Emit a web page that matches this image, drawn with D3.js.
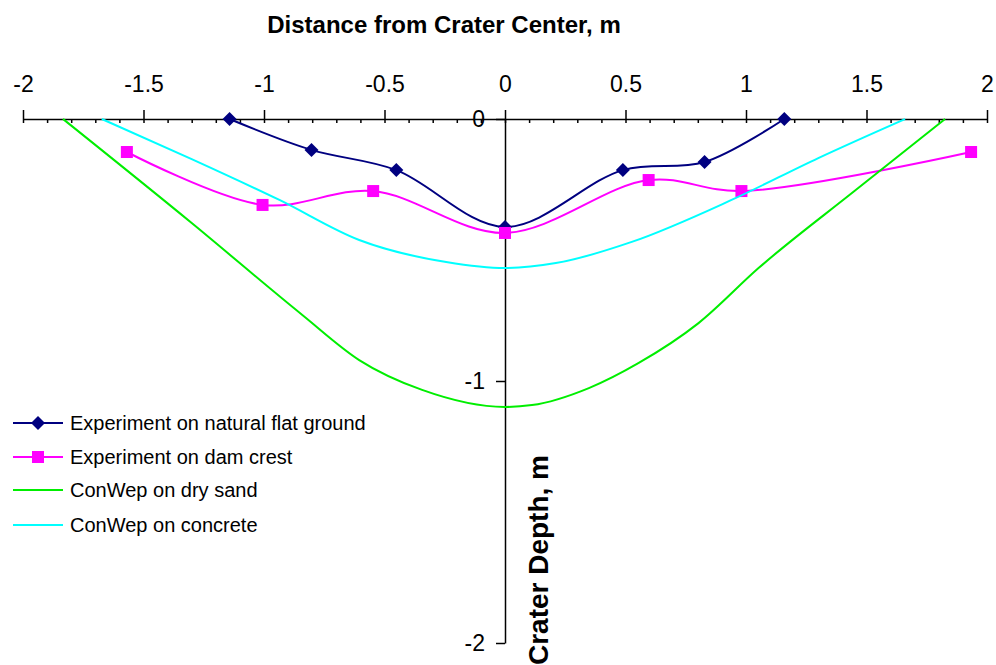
<!DOCTYPE html>
<html>
<head>
<meta charset="utf-8">
<script src="https://cdn.jsdelivr.net/npm/d3@7"></script>
<style>
  body { margin: 0; background: #fff; }
  text { font-family: "Liberation Sans", Arial, sans-serif; fill: #000; }
</style>
</head>
<body>
<div id="chart"></div>
<script>
// data (distance in m, depth in m)
var flatX = [-1.143, -0.803, -0.451, 0, 0.489, 0.828, 1.159];
var flatY = [0, -0.118, -0.195, -0.412, -0.195, -0.164, 0];

var damX = [-1.569, -1.006, -0.547, 0, 0.596, 0.981, 1.934];
var damY = [-0.126, -0.328, -0.275, -0.435, -0.233, -0.275, -0.126];

var sandX = [-1.834, -1.3, -0.841, -0.605, -0.344, 0, 0.112, 0.348, 0.555, 0.803, 1.052, 1.45, 1.826];
var sandY = [0, -0.397, -0.748, -0.920, -1.034, -1.099, -1.092, -1.027, -0.931, -0.779, -0.569, -0.275, 0];

var concX = [-1.673, -1.3, -0.936, -0.605, -0.244, 0, 0.211, 0.526, 0.940, 1.3, 1.660];
var concY = [0, -0.153, -0.309, -0.462, -0.546, -0.569, -0.550, -0.469, -0.309, -0.149, 0];

var xTicks = [-2, -1.5, -1, -0.5, 0, 0.5, 1, 1.5, 2];
var yTicks = [0, -1, -2];
var seriesNames = ["Experiment on natural flat ground", "Experiment on dam crest",
                   "ConWep on dry sand", "ConWep on concrete"];

var W = 996, H = 665;

var svg = d3.select("#chart").append("svg")
    .attr("width", W)
    .attr("height", H);

var x = d3.scaleLinear().domain([-2, 2]).range([23, 987]);
var y = d3.scaleLinear().domain([-2, 0]).range([643, 119]);

// title
svg.append("text")
    .attr("x", 444)
    .attr("y", 33)
    .attr("text-anchor", "middle")
    .style("font-size", "24px")
    .style("font-weight", "bold")
    .text("Distance from Crater Center, m");

// x axis on top (at depth 0)
var minor = d3.range(-20, 21).map(function(d) { return d / 10; });
svg.append("g")
    .attr("transform", "translate(0," + y(0) + ")")
    .call(d3.axisBottom(x).tickValues(minor).tickSize(4).tickSizeOuter(0).tickFormat(""))
    .call(function(g) { g.select(".domain").remove(); })
    .selectAll("line").attr("stroke", "#000").attr("stroke-width", 1.5);

var xAxis = svg.append("g")
    .attr("transform", "translate(0," + y(0) + ")")
    .call(d3.axisTop(x).tickValues(xTicks).tickSize(9).tickSizeOuter(0).tickPadding(18)
      .tickFormat(function(d) { return String(d); }));
xAxis.selectAll("text").style("font-size", "23px").attr("fill", "#000");
xAxis.selectAll("line").attr("stroke", "#000").attr("stroke-width", 1.5);
xAxis.select(".domain").attr("stroke", "#000").attr("stroke-width", 1.5);

// y axis through x = 0
var yAxis = svg.append("g")
    .attr("transform", "translate(" + x(0) + ",0)")
    .call(d3.axisLeft(y).tickValues(yTicks).tickSize(9).tickSizeOuter(0).tickPadding(11)
      .tickFormat(function(d) { return String(d); }));
yAxis.selectAll("text").style("font-size", "23px").attr("fill", "#000");
yAxis.selectAll("line").attr("stroke", "#000").attr("stroke-width", 1.5);
yAxis.select(".domain").attr("stroke", "#000").attr("stroke-width", 1.5);

svg.append("text")
    .attr("transform", "translate(548,455) rotate(-90)")
    .attr("text-anchor", "end")
    .style("font-size", "28px")
    .style("font-weight", "bold")
    .text("Crater Depth, m");

var smooth = d3.line()
    .x(function(d) { return x(d[0]); })
    .y(function(d) { return y(d[1]); })
    .curve(d3.curveCatmullRom.alpha(0.5));

var soft = d3.line()
    .x(function(d) { return x(d[0]); })
    .y(function(d) { return y(d[1]); })
    .curve(d3.curveMonotoneX);

function pairs(xs, ys) { return xs.map(function(v, i) { return [v, ys[i]]; }); }

var series = [
  {pts: pairs(flatX, flatY), color: "#000080", marker: "diamond", line: smooth},
  {pts: pairs(damX, damY), color: "#ff00ff", marker: "square", line: smooth},
  {pts: pairs(sandX, sandY), color: "#00ee00", marker: null, line: soft},
  {pts: pairs(concX, concY), color: "#00ffff", marker: null, line: soft}
];

function drawMarker(g, type, cx, cy, color) {
  if (type === "diamond") {
    g.append("path")
      .attr("d", "M" + cx + "," + (cy - 7) + "L" + (cx + 7) + "," + cy +
                 "L" + cx + "," + (cy + 7) + "L" + (cx - 7) + "," + cy + "Z")
      .attr("fill", color);
  } else if (type === "square") {
    g.append("rect")
      .attr("x", cx - 6).attr("y", cy - 6)
      .attr("width", 12).attr("height", 12)
      .attr("fill", color);
  }
}

series.forEach(function(s) {
  var g = svg.append("g");
  g.append("path")
    .datum(s.pts)
    .attr("d", s.line)
    .attr("fill", "none")
    .attr("stroke", s.color)
    .attr("stroke-width", 2);
  if (s.marker) {
    s.pts.forEach(function(p) { drawMarker(g, s.marker, x(p[0]), y(p[1]), s.color); });
  }
});

// legend
var legend = svg.append("g");
var rowY = [423, 457, 490, 525];
series.forEach(function(s, i) {
  legend.append("line")
    .attr("x1", 13).attr("x2", 63)
    .attr("y1", rowY[i]).attr("y2", rowY[i])
    .attr("stroke", s.color).attr("stroke-width", 2);
  if (s.marker) drawMarker(legend, s.marker, 38, rowY[i], s.color);
  legend.append("text")
    .attr("x", 70)
    .attr("y", rowY[i] + 7)
    .style("font-size", "20px")
    .text(seriesNames[i]);
});
</script>
</body>
</html>
